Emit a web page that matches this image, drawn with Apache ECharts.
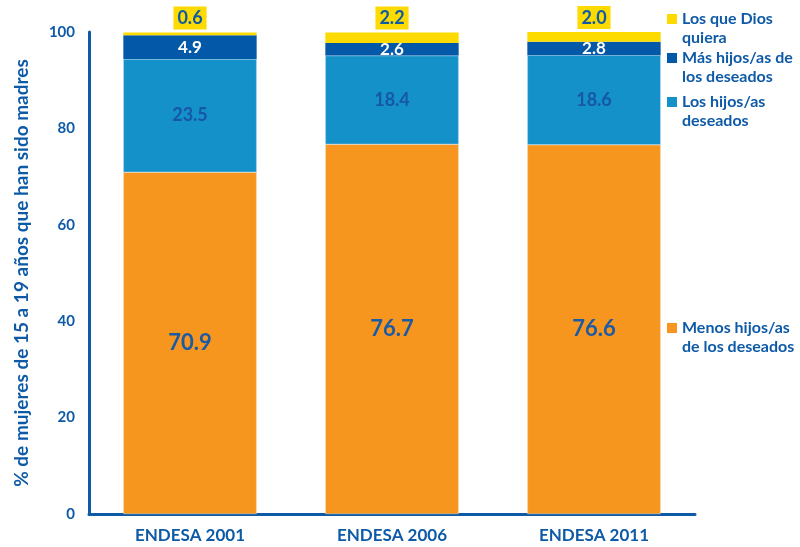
<!DOCTYPE html>
<html>
<head>
<meta charset="utf-8">
<script src="https://cdn.jsdelivr.net/npm/echarts@6/dist/echarts.min.js"></script>
<style>
  html, body { margin: 0; padding: 0; background: #fff; }
  #chart { width: 800px; height: 547px; }
</style>
</head>
<body>
<div id="chart"></div>
<script>
// datos
var categorias = ["ENDESA 2001", "ENDESA 2006", "ENDESA 2011"];
var menosHijos = [70.9, 76.7, 76.6];
var hijosDeseados = [23.5, 18.4, 18.6];
var masHijos = [4.9, 2.6, 2.8];
var diosQuiera = [0.6, 2.2, 2.0];
var nombres = ["Menos hijos/as de los deseados", "Los hijos/as deseados", "Más hijos/as de los deseados", "Los que Dios quiera"];
var textoLeyenda = {
  "Menos hijos/as de los deseados": "Menos hijos/as\nde los deseados",
  "Los hijos/as deseados": "Los hijos/as\ndeseados",
  "Más hijos/as de los deseados": "Más hijos/as de\nlos deseados",
  "Los que Dios quiera": "Los que Dios\nquiera"
};

var azulTexto = "#0E5AA7";
var fuente = "Lato";
// cuadrado arriba + punto casi nulo abajo para alinear el icono con la primera linea
var icono = "path://M0,0h10v10h-10zM0,27.99h0.01v0.01h-0.01z";

var chart = echarts.init(document.getElementById("chart"));

function leyenda(nombre, top) {
  return {
    data: [nombre],
    left: 667,
    top: top,
    padding: 0,
    orient: "vertical",
    icon: icono,
    itemWidth: 10,
    itemHeight: 30,
    itemGap: 0,
    selectedMode: false,
    itemStyle: { borderWidth: 0 },
    formatter: function (n) { return textoLeyenda[n]; },
    textStyle: {
      color: azulTexto,
      fontFamily: fuente,
      fontWeight: "bold",
      fontSize: 16,
      lineHeight: 19
    }
  };
}

function etiqueta(color, size) {
  return {
    show: true,
    position: "inside",
    color: color,
    fontFamily: fuente,
    fontWeight: "bold",
    fontSize: size,
    formatter: function (p) { return p.value.toFixed(1); }
  };
}

chart.setOption({
  animation: false,
  grid: { left: 89, right: 105, top: 32, bottom: 33 },
  legend: [
    leyenda(nombres[3], 9),
    leyenda(nombres[2], 48),
    leyenda(nombres[1], 92),
    leyenda(nombres[0], 318)
  ],
  xAxis: {
    type: "category",
    data: categorias,
    axisLine: { lineStyle: { color: azulTexto, width: 3 } },
    axisTick: { show: false },
    axisLabel: {
      color: azulTexto,
      fontFamily: fuente,
      fontWeight: "bold",
      fontSize: 17,
      margin: 13
    }
  },
  yAxis: {
    type: "value",
    min: 0,
    max: 100,
    interval: 20,
    name: "% de mujeres de 15 a 19 años que han sido madres",
    nameLocation: "middle",
    nameGap: 58,
    nameTextStyle: {
      color: azulTexto,
      fontFamily: fuente,
      fontWeight: "bold",
      fontSize: 19
    },
    axisLine: { show: true, lineStyle: { color: azulTexto, width: 3 } },
    axisTick: { show: false },
    splitLine: { show: false },
    axisLabel: {
      color: azulTexto,
      fontFamily: fuente,
      fontWeight: "bold",
      fontSize: 15,
      margin: 14
    }
  },
  series: [
    {
      name: nombres[0],
      type: "bar",
      stack: "total",
      barWidth: "66%",
      data: menosHijos,
      itemStyle: { color: "#F7961E", borderColor: "#f3d9b0", borderWidth: 0.5 },
      label: etiqueta("#1B5AA5", 22)
    },
    {
      name: nombres[1],
      type: "bar",
      stack: "total",
      data: hijosDeseados,
      itemStyle: { color: "#1591CA", borderColor: "#a9d2ea", borderWidth: 0.5 },
      label: etiqueta("#1657A6", 18)
    },
    {
      name: nombres[2],
      type: "bar",
      stack: "total",
      data: masHijos,
      itemStyle: { color: "#0458A8" },
      label: etiqueta("#ffffff", 17)
    },
    {
      name: nombres[3],
      type: "bar",
      stack: "total",
      data: diosQuiera,
      itemStyle: { color: "#FDDA00" },
      label: {
        show: true,
        position: "top",
        distance: 3,
        color: azulTexto,
        fontFamily: fuente,
        fontWeight: "bold",
        fontSize: 18,
        backgroundColor: "#FDDA00",
        padding: [3, 4, 2, 4],
        formatter: function (p) { return p.value.toFixed(1); }
      }
    }
  ]
});
</script>
</body>
</html>
